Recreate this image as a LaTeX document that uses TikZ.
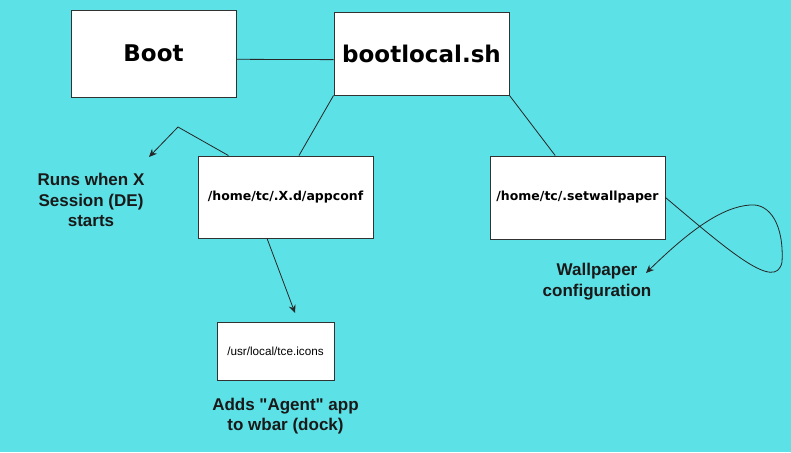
\documentclass[tikz,border=0pt]{standalone}
\usepackage{fontspec}
\setmainfont{Liberation Sans}[Ligatures=TeXOff]
\newfontfamily\boxfont{DejaVu Sans}
\usetikzlibrary{arrows.meta}
\definecolor{bgcyan}{RGB}{92,225,230}
\definecolor{boxline}{RGB}{50,50,50}
\tikzset{
	box/.style={draw=boxline, fill=white, line width=0.9pt, inner sep=0pt},
	note/.style={font=\bfseries\fontsize{17}{20.5}\selectfont, align=center, text=black!90},
	link/.style={line width=0.8pt, black!85},
	pointer/.style={link, -{Stealth[length=8pt,width=7pt]}}
}
\begin{document}
\begin{tikzpicture}[x=1pt,y=-1pt]
	\fill[bgcyan] (0,0) rectangle (791,452);
	\useasboundingbox (0,0) rectangle (791,452);
	\node[box, minimum width=165pt, minimum height=87pt, font=\boxfont\bfseries\fontsize{23}{26}\selectfont] (boot) at (153.5,53.5) {Boot};
	\node[box, minimum width=175pt, minimum height=83pt, font=\boxfont\bfseries\fontsize{23}{26}\selectfont] (bootlocal) at (421.5,53.5) {bootlocal.sh};
	\node[box, minimum width=175pt, minimum height=82pt, font=\boxfont\bfseries\fontsize{12.5}{15}\selectfont] (appconf) at (285.5,197) {/home/tc/.X.d/appconf};
	\node[box, minimum width=175pt, minimum height=83pt, font=\boxfont\bfseries\fontsize{12.5}{15}\selectfont] (wallpaper) at (577.5,197.5) {/home/tc/.setwallpaper};
	\node[box, minimum width=117pt, minimum height=58pt, font=\fontsize{11.7}{14}\selectfont] (icons) at (275.5,351) {/usr/local/tce.icons};
	\node[note] (xnote) at (91,200) {Runs when X\\Session (DE)\\starts};
	\node[note] (wpnote) at (597,281.5) {Wallpaper\\configuration};
	\node[note] (agentnote) at (285.5,416) {Adds "Agent" app\\to wbar (dock)};
	\coordinate (xbend) at (178,127);
	\coordinate (xtip) at (149,157);
	\coordinate (icontip) at (295,313);
	\coordinate (wptip) at (646,273);
	% connectors
	\draw[link] (boot.-4.5) -- (bootlocal.184.5);
	\draw[link] (bootlocal.south west) -- (appconf.72);
	\draw[link] (bootlocal.south east) -- (wallpaper.118);
	\draw[pointer] (appconf.144.5) -- (xbend) -- (xtip);
	\draw[pointer] (appconf.-114) -- (icontip);
	\draw[pointer] (wallpaper.east) .. controls (730,252) and (776,292) .. (782,262)
		.. controls (784,225) and (770,203) .. (750,205)
		.. controls (722,207) and (690,230) .. (wptip);
\end{tikzpicture}
\end{document}
